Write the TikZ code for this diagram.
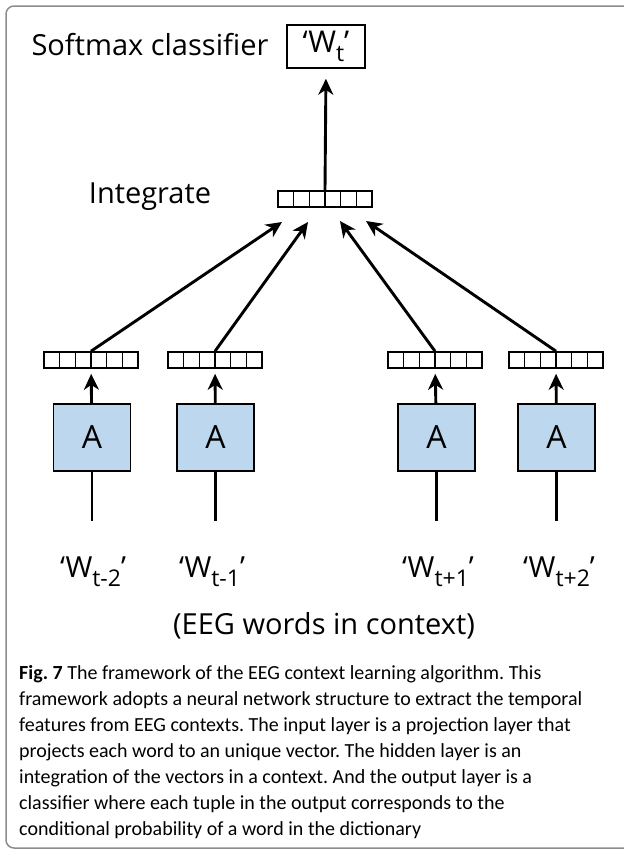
\documentclass[tikz,border=0pt]{standalone}
\usepackage{fontspec}
\setmainfont{Open Sans}
\newfontfamily\capfont{Carlito}
\usetikzlibrary{arrows.meta,calc}
\definecolor{boxblue}{HTML}{BDD7EE}
\definecolor{framegray}{HTML}{8C8C8C}
% quoted word with a lowered index
\newcommand{\wlab}[1]{‘W\raisebox{-0.3em}{\fontsize{23}{23}\selectfont #1}’}
\tikzset{
  vec/.style={draw, line width=1.6pt, minimum width=94pt, minimum height=16pt, inner sep=0pt},
  unit/.style={draw, line width=1.4pt, fill=boxblue, minimum width=77pt, minimum height=67pt,
    inner sep=0pt, font=\fontsize{32}{32}\selectfont},
  flow/.style={line width=2.9pt, -{Stealth[length=16pt,width=15pt,inset=5pt]}},
  lab/.style={font=\fontsize{29}{33}\selectfont},
}
\begin{document}
\begin{tikzpicture}[x=1pt,y=-1pt]
    \useasboundingbox (0,0) rectangle (624,852);
    % frame
    \draw[framegray, line width=1.5pt, rounded corners=8pt] (630,6) -- (6,6) -- (6,848) -- (630,848);
    % output
    \node[lab, anchor=west] (soft) at (28,45) {Softmax classifier};
    \node[draw, line width=1.5pt, minimum width=78pt, minimum height=43pt, inner sep=0pt,
      font=\fontsize{30}{30}\selectfont] (out) at (326,46.5) {\wlab{t}};
    % hidden layer
    \node[lab] (integ) at (150,197) {Integrate};
    \node[vec] (hid) at (325,199) {};
    % projection vectors
    \node[vec] (v1) at (91,360) {};
    \node[vec] (v2) at (215,360) {};
    \node[vec] (v3) at (435,360) {};
    \node[vec] (v4) at (556,360) {};
    \foreach \n in {hid,v1,v2,v3,v4}
      \foreach \k in {1,...,5}
        \draw[line width=1.1pt] ($(\n.south west)!\k/6!(\n.south east)$) -- ($(\n.north west)!\k/6!(\n.north east)$);
    % units
    \node[unit] (a1) at (92,437.5) {A};
    \node[unit] (a2) at (215.5,437.5) {A};
    \node[unit] (a3) at (436.5,437.5) {A};
    \node[unit] (a4) at (556.5,437.5) {A};
    % inputs
    \node[lab] (w1) at (93,572) {\wlab{t-2}};
    \node[lab] (w2) at (212,572) {\wlab{t-1}};
    \node[lab] (w3) at (438,572) {\wlab{t+1}};
    \node[lab] (w4) at (559,572) {\wlab{t+2}};
    \coordinate (i1) at (92,521);
    \coordinate (i2) at (215.5,521);
    \coordinate (i3) at (436.5,521);
    \coordinate (i4) at (556.5,521);
    \coordinate (h1) at (282,222);
    \coordinate (h2) at (308,222);
    \coordinate (h3) at (340,221);
    \coordinate (h4) at (366,221);
    % connectors
    \foreach \k in {1,...,4} {
      \draw[line width=2.9pt] (a\k.south) -- (i\k);
      \draw[flow, shorten >=5pt] (a\k) -- (v\k);
      \draw[flow] (v\k.north) -- (h\k);
    }
    \draw[flow, shorten >=10pt] (hid.north) -- (out.south);
    % text
    \node[lab] (ctx) at (324,626) {(EEG words in context)};
    \node[anchor=north west, align=left, inner sep=0pt, font=\capfont\fontsize{20}{26}\selectfont\frenchspacing]
      (cap) at (19,665) {\textbf{Fig. 7} The framework of the EEG context learning algorithm. This\\
      framework adopts a neural network structure to extract the temporal\\
      features from EEG contexts. The input layer is a projection layer that\\
      projects each word to an unique vector. The hidden layer is an\\
      integration of the vectors in a context. And the output layer is a\\
      classifier where each tuple in the output corresponds to the\\
      conditional probability of a word in the dictionary};
\end{tikzpicture}
\end{document}
